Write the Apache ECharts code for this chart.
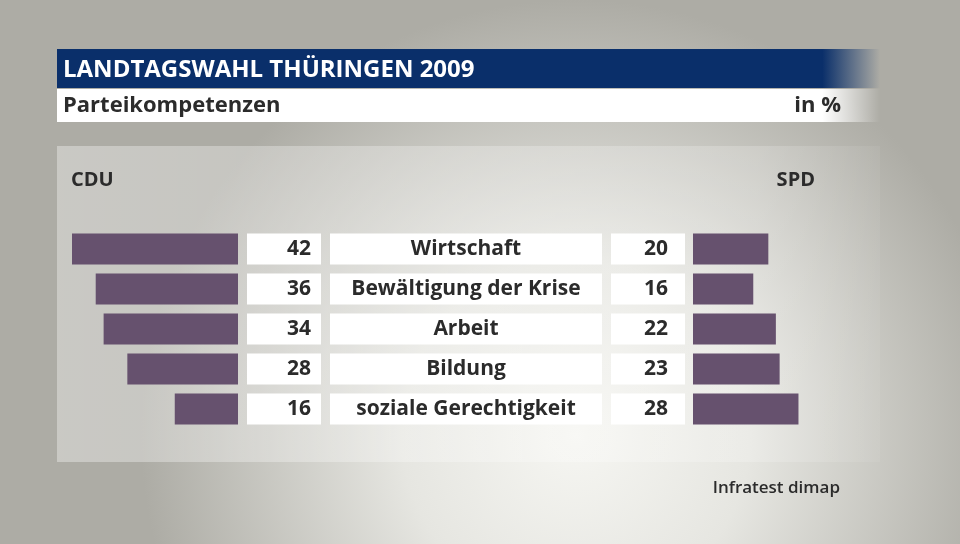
<!DOCTYPE html>
<html><head><meta charset="utf-8">
<script src="https://cdn.jsdelivr.net/npm/echarts@6/dist/echarts.min.js"></script>
<style>html,body{margin:0;padding:0;}#c{width:960px;height:544px;}</style>
</head><body><div id="c"></div>
<script>
const categories = ['Wirtschaft', 'Bewältigung der Krise', 'Arbeit', 'Bildung', 'soziale Gerechtigkeit'];
const cduValues = [42, 36, 34, 28, 16];
const spdValues = [20, 16, 22, 23, 28];
const leftParty = 'CDU';
const rightParty = 'SPD';
const titleText = 'LANDTAGSWAHL THÜRINGEN 2009';
const subtitleText = 'Parteikompetenzen';
const unitText = 'in %';
const sourceText = 'Infratest dimap';

const FONT = '"Open Sans", "Noto Sans", sans-serif';
const BAR = '#66516e';
const TXT = '#2b2b2b';
const chart = echarts.init(document.getElementById('c'), null, {renderer: 'canvas'});

const fadeRight = (c, a) => new echarts.graphic.LinearGradient(0, 0, 1, 0, [
  {offset: 0, color: c}, {offset: 0.93, color: c}, {offset: 1, color: a}
]);

chart.setOption({
  animation: false,
  backgroundColor: new echarts.graphic.RadialGradient(0.6, 0.8, 0.8, [
    {offset: 0, color: '#f6f6f2'}, {offset: 0.4, color: '#e6e6e1'}, {offset: 1, color: '#adaca5'}
  ]),
  graphic: [
    {type: 'rect', shape: {x: 57, y: 146, width: 823, height: 316}, z: -10,
      style: {fill: new echarts.graphic.LinearGradient(0, 0, 1, 0, [
        {offset: 0, color: 'rgba(255,255,255,0.35)'}, {offset: 0.85, color: 'rgba(255,255,255,0.2)'}, {offset: 1, color: 'rgba(255,255,255,0.05)'}])}},
    {type: 'rect', shape: {x: 57, y: 49, width: 823, height: 39}, style: {fill: fadeRight('#0a2f6a', 'rgba(10,47,106,0)')}},
    {type: 'rect', shape: {x: 57, y: 89, width: 823, height: 33}, style: {fill: fadeRight('#ffffff', 'rgba(255,255,255,0)')}},
    {type: 'text', x: 63, y: 70, style: {text: titleText, fill: '#fff', font: 'bold 24px ' + FONT, verticalAlign: 'middle'}},
    {type: 'text', x: 63, y: 106, style: {text: subtitleText, fill: TXT, font: 'bold 22px ' + FONT, verticalAlign: 'middle'}},
    {type: 'text', x: 841, y: 106, style: {text: unitText, fill: TXT, font: 'bold 22px ' + FONT, align: 'right', verticalAlign: 'middle'}},
    {type: 'text', x: 71, y: 180, style: {text: leftParty, fill: TXT, font: 'bold 20px ' + FONT, verticalAlign: 'middle'}},
    {type: 'text', x: 815, y: 180, style: {text: rightParty, fill: TXT, font: 'bold 20px ' + FONT, align: 'right', verticalAlign: 'middle'}},
    {type: 'text', x: 840, y: 488, style: {text: sourceText, fill: TXT, font: '600 17px ' + FONT, align: 'right', verticalAlign: 'middle'}}
  ],
  grid: [
    {left: 72, width: 166, top: 229, height: 200},
    {left: 693, width: 113, top: 229, height: 200}
  ],
  xAxis: [
    {gridIndex: 0, type: 'value', min: 0, max: 42, inverse: true, show: false},
    {gridIndex: 1, type: 'value', min: 0, max: 30, show: false}
  ],
  yAxis: [
    {gridIndex: 0, type: 'category', data: categories, inverse: true, show: false},
    {gridIndex: 1, type: 'category', data: categories, inverse: true,
      axisLine: {show: false}, axisTick: {show: false}, splitLine: {show: false},
      axisLabel: {margin: 91, formatter: v => '{c|' + v + '}',
        rich: {c: {width: 272, height: 31, lineHeight: 31, align: 'center', backgroundColor: '#fff',
          color: TXT, fontFamily: FONT, fontWeight: 'bold', fontSize: 21}}}}
  ],
  series: [
    {type: 'bar', xAxisIndex: 0, yAxisIndex: 0, data: cduValues, barWidth: 31,
      itemStyle: {color: BAR},
      label: {show: true, position: 'right', distance: 9, formatter: p => '{v|' + p.value + '}',
        rich: {v: {width: 64, height: 31, lineHeight: 31, align: 'right', padding: [0, 10, 0, 0], backgroundColor: '#fff',
          color: TXT, fontFamily: FONT, fontWeight: 'bold', fontSize: 21}}}},
    {type: 'bar', xAxisIndex: 1, yAxisIndex: 1, data: spdValues, barWidth: 31,
      itemStyle: {color: BAR},
      label: {show: true, position: 'left', distance: 8, formatter: p => '{v|' + p.value + '}',
        rich: {v: {width: 57, height: 31, lineHeight: 31, align: 'right', padding: [0, 17, 0, 0], backgroundColor: '#fff',
          color: TXT, fontFamily: FONT, fontWeight: 'bold', fontSize: 21}}}}
  ]
});
</script></body></html>
